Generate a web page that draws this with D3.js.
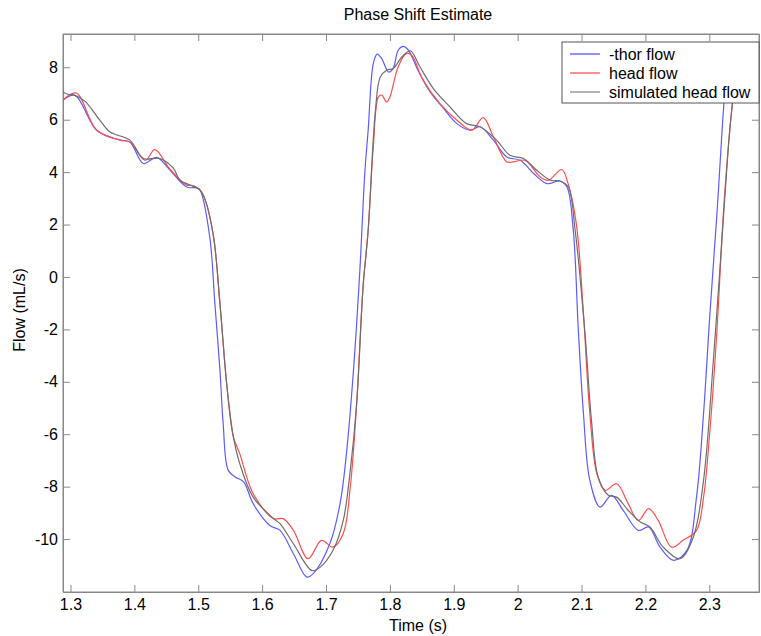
<!DOCTYPE html>
<html>
<head>
<meta charset="utf-8">
<script src="https://cdn.jsdelivr.net/npm/d3@7"></script>
<style>
body { margin:0; background:#fff; }
svg text { font-family: "Liberation Sans", Arial, sans-serif; font-size:16px; fill:#000; }
.axis path, .axis line { stroke:#888; }
</style>
</head>
<body>
<div id="chart"></div>
<script>
// values (time in s, flow in mL/s)
var thorTime = [1.288,1.307,1.341,1.378,1.393,1.414,1.435,1.456,1.482,1.498,1.503,1.518,1.526,1.534,1.539,1.547,1.558,1.571,1.586,1.612,1.628,1.649,1.670,1.680,1.706,1.722,1.732,1.743,1.753,1.761,1.766,1.774,1.780,1.787,1.798,1.805,1.813,1.821,1.829,1.844,1.863,1.884,1.905,1.925,1.941,1.962,1.983,2.004,2.025,2.046,2.066,2.077,2.087,2.095,2.103,2.113,2.129,2.147,2.165,2.189,2.205,2.223,2.244,2.265,2.280,2.291,2.301,2.312,2.321,2.326];
var thorFlow = [6.74,6.93,5.6,5.22,5.15,4.33,4.56,4.07,3.43,3.40,3.31,1.53,-1.0,-3.56,-5.59,-7.38,-7.63,-7.82,-8.65,-9.48,-9.67,-10.56,-11.45,-11.32,-10.18,-8.65,-6.74,-3.56,0.26,4.07,5.6,8.14,8.5,8.34,7.82,7.95,8.65,8.8,8.65,7.89,7.06,6.43,5.85,5.6,5.73,5.22,4.58,4.45,3.95,3.56,3.66,3.44,1.8,-2.03,-5.21,-7.76,-8.78,-8.33,-8.9,-9.67,-9.54,-10.31,-10.81,-10.43,-8.4,-5.21,-1.4,2.42,5.98,7.6];

var headTime = [1.288,1.309,1.341,1.378,1.393,1.417,1.432,1.456,1.482,1.487,1.495,1.503,1.511,1.524,1.534,1.545,1.555,1.565,1.586,1.618,1.633,1.649,1.672,1.693,1.711,1.727,1.738,1.748,1.758,1.766,1.774,1.782,1.787,1.795,1.800,1.813,1.826,1.834,1.852,1.878,1.905,1.928,1.946,1.962,1.983,1.993,2.012,2.035,2.048,2.069,2.079,2.092,2.103,2.113,2.124,2.137,2.155,2.173,2.189,2.205,2.220,2.241,2.259,2.280,2.291,2.301,2.312,2.322,2.332,2.338];
var headFlow = [6.75,7.02,5.6,5.22,5.15,4.45,4.86,4.1,3.5,3.5,3.46,3.3,2.93,1.53,-1.02,-4.2,-6.1,-6.74,-8.27,-9.22,-9.22,-9.67,-10.75,-10.05,-10.31,-9.79,-8.02,-4.83,-0.38,1.78,4.96,6.87,6.94,6.68,6.87,8.02,8.53,8.46,7.51,6.62,5.98,5.6,6.08,5.35,4.39,4.39,4.45,3.82,3.69,4.1,3.56,2.0,-1.4,-5.21,-7.5,-8.14,-7.89,-8.65,-9.29,-8.84,-9.29,-10.31,-10.05,-9.67,-8.4,-5.85,-2.03,2.42,5.6,7.0];

var simTime = [1.288,1.296,1.307,1.323,1.346,1.362,1.393,1.414,1.440,1.461,1.471,1.482,1.503,1.511,1.524,1.534,1.545,1.555,1.565,1.586,1.618,1.628,1.649,1.678,1.691,1.711,1.727,1.738,1.748,1.758,1.766,1.777,1.785,1.795,1.805,1.819,1.832,1.847,1.868,1.894,1.920,1.941,1.967,1.988,2.009,2.030,2.051,2.066,2.079,2.090,2.105,2.116,2.126,2.142,2.155,2.173,2.192,2.207,2.228,2.254,2.275,2.291,2.306,2.319,2.332,2.338];
var simFlow = [7.06,6.97,6.93,6.7,5.98,5.53,5.22,4.52,4.52,4.15,3.69,3.56,3.31,2.93,1.53,-1.02,-4.2,-6.1,-7.12,-8.4,-9.22,-9.41,-10.18,-11.2,-11.07,-10.43,-9.29,-7.38,-4.83,-0.38,1.78,6.24,7.63,7.89,7.95,8.4,8.63,8.02,7.19,6.49,5.85,5.73,5.22,4.64,4.52,4.07,3.69,3.66,3.44,1.78,-2.03,-5.6,-7.63,-8.33,-8.4,-8.9,-9.35,-9.54,-10.31,-10.75,-9.92,-7.76,-3.31,1.15,5.6,7.0];

var seriesNames = ['-thor flow', 'head flow', 'simulated head flow'];
var seriesColors = ['#5b5bff', '#ff4d4d', '#6e6e6e'];
var legendColors = ['#6b6bff', '#ff6b6b', '#9a9a9a'];

var xTicks = [1.3,1.4,1.5,1.6,1.7,1.8,1.9,2.0,2.1,2.2,2.3];
var yTicks = [-10,-8,-6,-4,-2,0,2,4,6,8];
var xDomain = [1.2883, 2.3778];
var yDomain = [-12.02, 9.27];

var chart = {
	padding: {l:63, t:34, r:2, b:44},
	w: 761,
	h: 636,
	svg: null
};

function drawChart() {
	chart.svg = d3.select('#chart').append('svg')
				.attr('width', chart.w)
				.attr('height', chart.h);
	var svg = chart.svg;
	var left = chart.padding.l, right = chart.w - chart.padding.r;
	var top = chart.padding.t, bottom = chart.h - chart.padding.b;

	var x_scale = d3.scaleLinear().domain(xDomain).range([left, right]);
	var y_scale = d3.scaleLinear().domain(yDomain).range([bottom, top]);

	var fmt = d => String(+d.toFixed(1));

	svg.append('defs').append('clipPath').attr('id', 'plotclip')
		.append('rect')
			.attr('x', left).attr('y', top)
			.attr('width', right - left).attr('height', bottom - top);

	// inward MATLAB-style ticks on all four sides
	svg.append('g').attr('class', 'axis x')
		.attr('transform', 'translate(0,' + bottom + ')')
		.call(d3.axisBottom(x_scale).tickValues(xTicks).tickFormat(fmt).tickSizeInner(-7).tickSizeOuter(0).tickPadding(7))
		.call(g => g.selectAll('text').attr('font-size', 16).attr('font-family', null));
	svg.append('g').attr('class', 'axis x2')
		.attr('transform', 'translate(0,' + top + ')')
		.call(d3.axisTop(x_scale).tickValues(xTicks).tickFormat('').tickSizeInner(-7).tickSizeOuter(0));
	svg.append('g').attr('class', 'axis y')
		.attr('transform', 'translate(' + left + ',0)')
		.call(d3.axisLeft(y_scale).tickValues(yTicks).tickFormat(fmt).tickSizeInner(-7).tickSizeOuter(0).tickPadding(5))
		.call(g => g.selectAll('text').attr('font-size', 16).attr('font-family', null));
	svg.append('g').attr('class', 'axis y2')
		.attr('transform', 'translate(' + right + ',0)')
		.call(d3.axisRight(y_scale).tickValues(yTicks).tickFormat('').tickSizeInner(-7).tickSizeOuter(0));

	svg.append('rect')
		.attr('x', left).attr('y', top)
		.attr('width', right - left).attr('height', bottom - top)
		.attr('fill', 'none').attr('stroke', '#888');

	var series = [
		{name: seriesNames[0], t: thorTime, v: thorFlow},
		{name: seriesNames[1], t: headTime, v: headFlow},
		{name: seriesNames[2], t: simTime, v: simFlow}
	];

	var line = d3.line()
				.x(d => x_scale(d[0]))
				.y(d => y_scale(d[1]))
				.curve(d3.curveCatmullRom.alpha(0.5));

	svg.append('g')
		.attr('clip-path', 'url(#plotclip)')
		.selectAll('path')
		.data(series)
		.enter()
		.append('path')
			.attr('fill', 'none')
			.attr('stroke', (d, i) => seriesColors[i])
			.attr('stroke-width', 1.2)
			.attr('d', d => line(d.t.map((t, k) => [t, d.v[k]])));

	// legend
	var lg = svg.append('g').attr('transform', 'translate(562,42)');
	lg.append('rect')
		.attr('width', 197).attr('height', 61)
		.attr('fill', '#fff').attr('stroke', '#555');
	var rows = lg.selectAll('g.row')
		.data(seriesNames)
		.enter()
		.append('g')
			.attr('class', 'row')
			.attr('transform', (d, i) => 'translate(0,' + (12 + i * 19) + ')');
	rows.append('line')
		.attr('x1', 8).attr('x2', 38)
		.attr('stroke', (d, i) => legendColors[i])
		.attr('stroke-width', 1.5);
	rows.append('text')
		.attr('x', 47)
		.attr('dy', '0.35em')
		.text(d => d);

	svg.append('text')
		.attr('x', (left + right) / 2 + 7)
		.attr('y', 20)
		.attr('text-anchor', 'middle')
		.text('Phase Shift Estimate');

	svg.append('text')
		.attr('x', (left + right) / 2 + 7)
		.attr('y', 631)
		.attr('text-anchor', 'middle')
		.text('Time (s)');

	svg.append('text')
		.attr('transform', 'translate(25,' + 310 + ') rotate(-90)')
		.attr('text-anchor', 'middle')
		.text('Flow (mL/s)');
}

drawChart();
</script>
</body>
</html>
